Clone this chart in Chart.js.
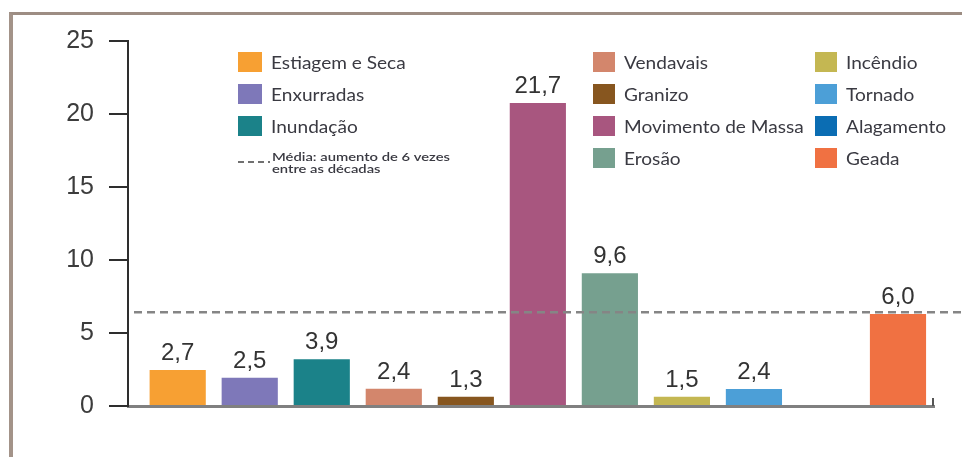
<!DOCTYPE html>
<html>
<head>
<meta charset="utf-8">
<script src="https://cdn.jsdelivr.net/npm/chart.js@4/dist/chart.umd.min.js"></script>
<style>
  html, body { margin: 0; padding: 0; background: #fff; }
  #wrap { position: relative; width: 962px; height: 457px; overflow: hidden; }
  #frame { position: absolute; left: 9px; top: 12px; right: -10px; bottom: -10px;
           border-top: 3px solid #9d8d83; border-left: 4px solid #a39389; }
  #chart { position: absolute; left: 0; top: 0; }
</style>
</head>
<body>
<div id="wrap">
  <div id="frame"></div>
  <canvas id="chart" width="962" height="457"></canvas>
</div>
<script>
// categorias do gráfico
const categories = ["Estiagem e Seca", "Enxurradas", "Inundação", "Vendavais", "Granizo",
  "Movimento de Massa", "Erosão", "Incêndio", "Tornado", "Alagamento", "Geada"];
// altura das barras como aparecem no desenho
const barValues = [2.47, 1.94, 3.2, 1.18, 0.64, 20.75, 9.09, 0.64, 1.16, 0, 6.3];
// rótulos impressos sobre as barras
const valueLabels = ["2,7", "2,5", "3,9", "2,4", "1,3", "21,7", "9,6", "1,5", "2,4", "", "6,0"];
const barColors = ["#f7a033", "#7e78b9", "#1b8289", "#d3866c", "#87561f", "#a8567f",
  "#76a08f", "#c4b752", "#4c9fd7", "#0b6db3", "#f07142"];
const yTicks = [0, 5, 10, 15, 20, 25];
const averageValue = 6.42;
const averageLabel = ["Média: aumento de 6 vezes", "entre as décadas"];

const textColor = "#3a3a42";

// texto um pouco mais largo, como na figura original
function wideText(ctx, txt, x, y, sx) {
  ctx.save();
  ctx.translate(x, y);
  ctx.scale(sx, 1);
  ctx.fillText(txt, 0, 0);
  ctx.restore();
}

// legenda dentro da área do gráfico
const legendPlugin = {
  id: "legendBoxes",
  afterDraw(chart) {
    const ctx = chart.ctx;
    const cols = [
      { x: 238, w: 24, items: [0, 1, 2] },
      { x: 593, w: 22, items: [3, 4, 5, 6] },
      { x: 815, w: 22, items: [7, 8, 9, 10] }
    ];
    ctx.save();
    ctx.font = "18px Lato";
    ctx.textBaseline = "middle";
    ctx.textAlign = "left";
    cols.forEach(col => {
      col.items.forEach((idx, r) => {
        const top = 52 + r * 32;
        ctx.fillStyle = barColors[idx];
        ctx.fillRect(col.x, top, col.w, 20);
        ctx.fillStyle = textColor;
        wideText(ctx, categories[idx], col.x + col.w + 9, top + 11, 1.06);
      });
    });
    // linha da média na legenda
    ctx.strokeStyle = "#707070";
    ctx.lineWidth = 2;
    ctx.setLineDash([6, 4]);
    ctx.beginPath();
    ctx.moveTo(238, 162);
    ctx.lineTo(270, 162);
    ctx.stroke();
    ctx.setLineDash([]);
    ctx.font = "600 12px Lato";
    ctx.fillStyle = textColor;
    const sx = 178 / ctx.measureText(averageLabel[0]).width;
    wideText(ctx, averageLabel[0], 272, 157, sx);
    wideText(ctx, averageLabel[1], 272, 169, sx);
    ctx.restore();
  }
};

const averagePlugin = {
  id: "averageLine",
  afterDatasetsDraw(chart) {
    const ctx = chart.ctx;
    const y = chart.scales.y.getPixelForValue(averageValue);
    ctx.save();
    ctx.strokeStyle = "#858585";
    ctx.lineWidth = 2.5;
    ctx.setLineDash([8, 5]);
    ctx.beginPath();
    ctx.moveTo(chart.chartArea.left + 6, y);
    ctx.lineTo(chart.width, y);
    ctx.stroke();
    ctx.restore();

    // pequeno traço no fim do eixo x
    const area = chart.chartArea;
    ctx.save();
    ctx.strokeStyle = "#555";
    ctx.lineWidth = 2;
    ctx.beginPath();
    ctx.moveTo(area.right - 1, area.bottom);
    ctx.lineTo(area.right - 1, area.bottom - 8);
    ctx.stroke();
    ctx.restore();

    // valores acima das barras
    const meta = chart.getDatasetMeta(0);
    ctx.save();
    ctx.font = "24px 'Liberation Sans', Arial";
    ctx.fillStyle = "#333";
    ctx.textAlign = "center";
    ctx.textBaseline = "alphabetic";
    meta.data.forEach((bar, i) => {
      if (!valueLabels[i]) return;
      ctx.fillText(valueLabels[i], bar.x, bar.y - 10);
    });
    ctx.restore();
  }
};

new Chart(document.getElementById("chart"), {
  type: "bar",
  data: {
    labels: categories,
    datasets: [{
      data: barValues.map((v, i) => ({ x: i, y: v })),
      backgroundColor: barColors,
      borderWidth: 0,
      barPercentage: 0.78,
      categoryPercentage: 1
    }]
  },
  options: {
    responsive: false,
    animation: false,
    devicePixelRatio: 1,
    layout: { padding: { top: 41, right: 28, left: 0, bottom: 0 } },
    plugins: { legend: { display: false }, tooltip: { enabled: false } },
    scales: {
      x: {
        type: "linear",
        offset: false,
        min: -0.69,
        max: 10.5,
        ticks: { display: false },
        grid: { drawOnChartArea: false, drawTicks: false },
        border: { color: "#808080", width: 3 },
        afterFit: s => { s.height = 51; }
      },
      y: {
        min: 0,
        max: 25,
        afterBuildTicks: s => { s.ticks = yTicks.map(v => ({ value: v })); },
        ticks: {
          padding: 15,
          color: "#3c3c3c",
          font: { family: "'Liberation Sans', Arial", size: 25 }
        },
        grid: { drawOnChartArea: false, tickLength: 19, color: "#2e2e2e", lineWidth: 2 },
        border: { color: "#2e2e2e", width: 2 },
        afterFit: s => { s.width = 128; }
      }
    }
  },
  plugins: [legendPlugin, averagePlugin]
});
</script>
</body>
</html>
